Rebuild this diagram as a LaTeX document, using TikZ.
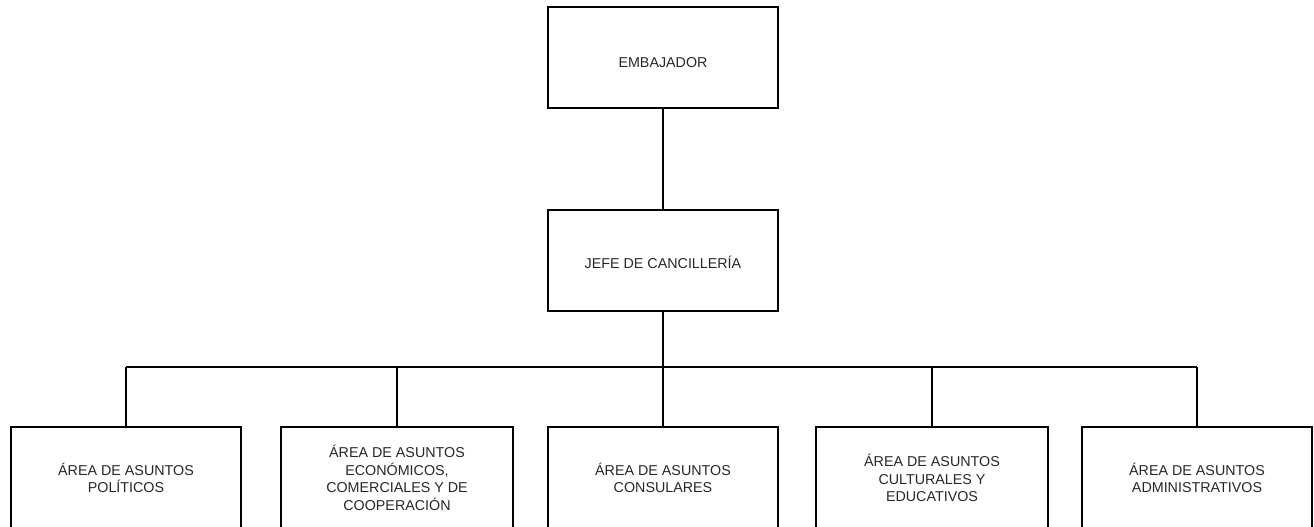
\documentclass[tikz,border=0pt]{standalone}
\usepackage{fontspec}
\setmainfont{Liberation Sans}
\begin{document}
\begin{tikzpicture}[x=1pt,y=-1pt,
  orgbox/.style={draw=black, line width=1.3pt, rectangle, inner sep=0pt,
    minimum height=101pt, align=center, text=black!85,
    font=\fontsize{14.3}{17.5}\selectfont},
  conn/.style={draw=black, line width=1.3pt}]
\useasboundingbox (0,0) rectangle (1314,527);
\node[orgbox, minimum width=230pt, text depth=0pt, text height=19pt] (emb) at (663,57.5) {EMBAJADOR};
\node[orgbox, minimum width=230pt, text depth=0pt, text height=15pt] (jefe) at (663,260.5) {JEFE DE CANCILLERÍA};
\node[orgbox, minimum width=230pt, minimum height=102pt] (b1) at (126,478) {ÁREA DE ASUNTOS\\POLÍTICOS};
\node[orgbox, minimum width=232pt, minimum height=102pt] (b2) at (397,478) {ÁREA DE ASUNTOS\\ECONÓMICOS,\\COMERCIALES Y DE\\COOPERACIÓN};
\node[orgbox, minimum width=230pt, minimum height=102pt] (b3) at (663,478) {ÁREA DE ASUNTOS\\CONSULARES};
\node[orgbox, minimum width=232pt, minimum height=102pt] (b4) at (932,478) {ÁREA DE ASUNTOS\\CULTURALES Y\\EDUCATIVOS};
\node[orgbox, minimum width=230pt, minimum height=102pt] (b5) at (1197,478) {ÁREA DE ASUNTOS\\ADMINISTRATIVOS};
\coordinate (bus) at (663,367);
\draw[conn] (emb.south) -- (jefe.north);
\draw[conn] (jefe.south) -- (bus);
\draw[conn] (b1.north |- bus) -- (b5.north |- bus);
\foreach \b in {b1,b2,b3,b4,b5}
  \draw[conn] (\b.north) -- (\b.north |- bus);
\end{tikzpicture}
\end{document}
